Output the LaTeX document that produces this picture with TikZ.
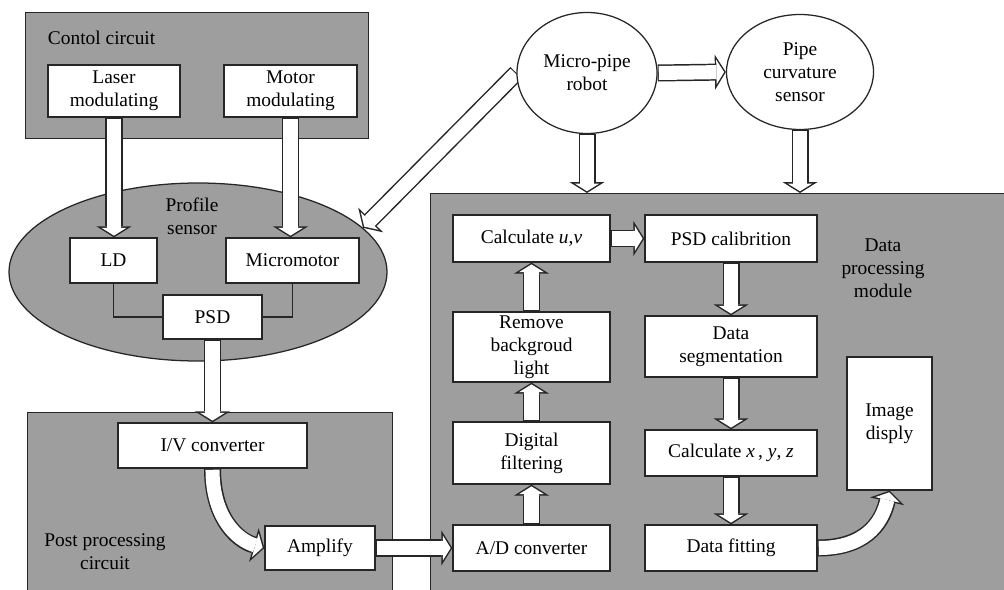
\documentclass[tikz,border=0pt]{standalone}
\usepackage{fontspec}
\setmainfont{Liberation Serif}
\usetikzlibrary{arrows.meta,shapes.geometric,backgrounds}
\newdimen\px \px=0.025cm

\tikzset{
  panel/.style={draw=black!85, line width=0.9pt, fill=black!38},
  blk/.style={draw=black!85, line width=0.9pt, fill=white, align=center, inner sep=0pt},
  oval/.style={ellipse, draw=black!85, line width=0.9pt, fill=white, align=center, inner sep=0pt},
  wire/.style={draw=black!85, line width=0.9pt},
  hollow/.style={draw=black!85, line width=12.1pt,
    -{Triangle[length=7.8pt, width=24.9pt, line width=0pt 0 0]},
    postaction={draw=white, line width=10pt, shorten <=0.8pt, shorten >=1.25pt,
      -{Triangle[length=5.5pt, width=17.6pt, line width=0pt 0 0]}}},
}

\begin{document}
\begin{tikzpicture}[x=0.025cm, y=-0.025cm, font=\fontsize{13.8}{16.3}\selectfont]
\useasboundingbox (0,0) rectangle (1004,590);
% grey panels
\begin{scope}[on background layer]
\node[panel, anchor=north west, minimum width=343\px, minimum height=126\px] (ctrl) at (25,12) {};
\node[panel, ellipse, minimum width=378\px, minimum height=178\px] (prof) at (198,272) {};
\node[panel, anchor=north west, minimum width=365\px, minimum height=190\px] (post) at (27,412) {};
\node[panel, anchor=north west, minimum width=590\px, minimum height=410\px] (data) at (430,193) {};
\end{scope}
\node[anchor=west] (ctrltxt) at (43,38) {Contol circuit};
\node[align=center] (proftxt) at (192,216) {Profile\\sensor};
\node[align=center] (posttxt) at (105,552) {Post processing\\circuit};
\node[align=center] (datatxt) at (883,268) {Data\\processing\\module};
% left part
\node[blk, minimum width=132\px, minimum height=52\px] (laser) at (114,91) {Laser\\modulating};
\node[blk, minimum width=133\px, minimum height=52\px] (motor) at (290.5,91) {Motor\\modulating};
\node[blk, minimum width=87\px, minimum height=45\px] (ld) at (113.5,260.5) {LD};
\node[blk, minimum width=133\px, minimum height=45\px] (mm) at (292.5,260.5) {Micromotor};
\node[blk, minimum width=99\px, minimum height=44\px] (psd) at (212.5,317) {PSD};
\node[blk, minimum width=189\px, minimum height=45\px] (iv) at (212.5,445.5) {I/V converter};
\node[blk, minimum width=110\px, minimum height=44\px] (amp) at (320,548) {Amplify};
% top ovals
\node[oval, minimum width=140\px, minimum height=121\px] (robot) at (587,73) {Micro-pipe\\robot};
\node[oval, minimum width=147\px, minimum height=115\px] (pipe) at (800,72) {Pipe\\curvature\\sensor};
% data processing
\node[blk, minimum width=157\px, minimum height=47\px] (calcuv) at (531.5,238.5) {Calculate \textit{u},\textit{v}};
\node[blk, minimum width=172\px, minimum height=47\px] (cal) at (731,238.5) {PSD calibrition};
\node[blk, minimum width=157\px, minimum height=70\px] (rmbg) at (531.5,347) {Remove\\backgroud\\light};
\node[blk, minimum width=172\px, minimum height=61\px] (seg) at (731,346.5) {Data\\segmentation};
\node[blk, minimum width=85\px, minimum height=133\px] (img) at (889.5,423.5) {Image\\disply};
\node[blk, minimum width=157\px, minimum height=62\px] (dig) at (531.5,453) {Digital\\filtering};
\node[blk, minimum width=157\px, minimum height=46\px] (ad) at (531.5,548) {A/D converter};
\node[blk, minimum width=172\px, minimum height=46\px] (xyz) at (731,453) {Calculate \textit{x}\,, \textit{y}, \textit{z}};
\node[blk, minimum width=172\px, minimum height=46\px] (fit) at (731,548) {Data fitting};
% wires
\draw[wire] (ld.south) |- (psd.west);
\draw[wire] (mm.south) |- (psd.east);
% hollow arrows
\begin{scope}[on background layer]
\draw[hollow] (laser.south) -- (laser.south |- ld.north);
\draw[hollow] (motor.south) -- (motor.south |- mm.north);
\draw[hollow] (psd.south) -- (psd.south |- iv.north);
\draw[hollow] (iv.south) .. controls +(0,48) and +(-28,-8) .. (amp.west);
\draw[hollow] (amp.east) -- (ad.west);
\draw[hollow] (robot.west) -- (prof.15);
\draw[hollow] (robot.east) -- (pipe.west);
\draw[hollow] (robot.south) -- (robot.south |- data.north);
\draw[hollow] (pipe.south) -- (pipe.south |- data.north);
\draw[hollow] (calcuv.east) -- (cal.west);
\draw[hollow] (ad.north) -- (dig.south);
\draw[hollow] (dig.north) -- (rmbg.south);
\draw[hollow] (rmbg.north) -- (calcuv.south);
\draw[hollow] (cal.south) -- (seg.north);
\draw[hollow] (seg.south) -- (xyz.north);
\draw[hollow] (xyz.south) -- (fit.north);
\draw[hollow] (fit.east) .. controls +(45,0) and +(-8,35) .. (img.south);
\end{scope}
\end{tikzpicture}
\end{document}
